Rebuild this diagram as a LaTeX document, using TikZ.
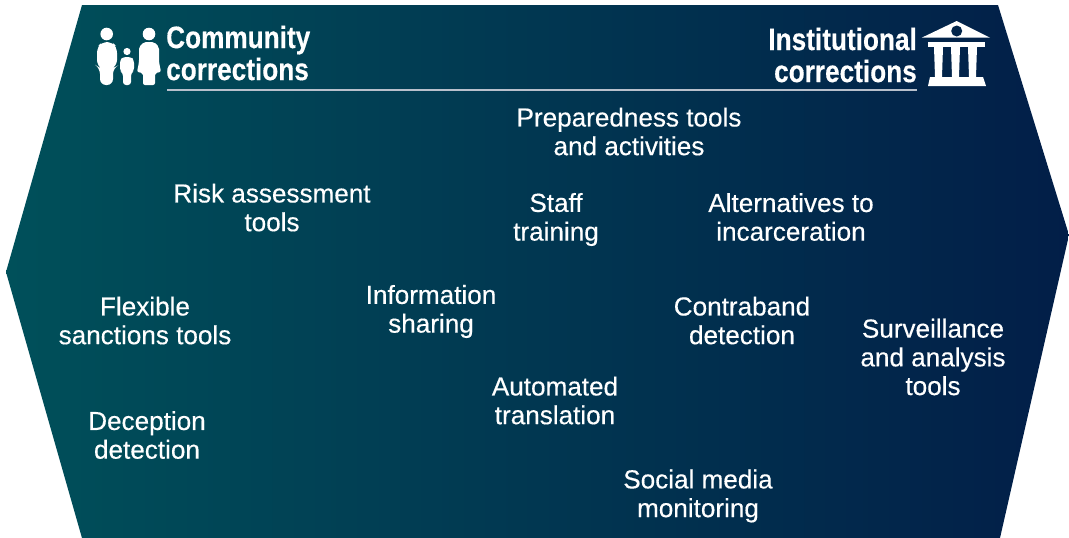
\documentclass[tikz,border=0pt]{standalone}
\usepackage{fontspec}
\setmainfont[FakeBold=0.35]{Liberation Sans}
\newfontfamily\headfont[FakeStretch=0.845,FakeBold=0.3]{Liberation Sans Bold}
\usepackage{tikz}
\definecolor{tealend}{RGB}{0,80,90}
\definecolor{navyend}{RGB}{2,30,72}
\tikzstyle{tool} = [text=white, align=center, inner sep=0pt, font=\fontsize{26.1}{28.7}\selectfont]
\tikzstyle{head} = [text=white, inner sep=0pt, font=\headfont\fontsize{31}{32}\selectfont]
\tikzstyle{icon} = [fill=white, draw=none]

\begin{document}
\begin{tikzpicture}[x=1pt,y=-1pt]
 \useasboundingbox (0,0) rectangle (1069,538);

 % hexagon band
 \shade[left color=tealend, right color=navyend, middle color=tealend!50!navyend]
   (82,5) -- (998,5) -- (1069,235) -- (1000,538) -- (82,538) -- (6,272) -- cycle;

 % headers
 \node (community) [head, align=left, anchor=west] at (166,53) {Community\\corrections};
 \node (institutional) [head, align=right, anchor=east] at (917,55) {Institutional\\corrections};
 \coordinate (ruleleft) at (167,90);
 \coordinate (ruleright) at (917,90);
 \draw [line width=1.3pt, white!72!navyend] (ruleleft) -- (ruleright);

 % family
 \fill [icon] (106.7,34) circle (6.3);
 \fill [icon, rounded corners=6pt] (100,85) -- (100,68) -- (97,66) -- (97,47) -- (102,42) -- (112,42) -- (117,47) -- (117,66) -- (113,68) -- (113,85) -- cycle;
 \fill [icon] (127,51.5) circle (3.6);
 \fill [icon, rounded corners=3pt] (123,85) -- (123,73) -- (120,71) -- (120,60) -- (123,57) -- (131,57) -- (134,60) -- (134,71) -- (131,73) -- (131,85) -- cycle;
 \fill [icon] (149,34) circle (6.3);
 \fill [icon, rounded corners=2pt] (143,85) -- (143,73) -- (137,72) -- (139,62) -- (139,47) -- (144,42) -- (154,42) -- (159,47) -- (159,62) -- (161,72) -- (155,73) -- (155,85) -- cycle;

 % temple
 \fill [icon] (956.7,21) -- (990,37.7) -- (921.7,37.7) -- cycle;
 \fill [navyend!85!tealend] (956.7,31) circle (5.5);
 \fill [icon] (928,42) rectangle (985,47);
 \fill [icon] (934,47) -- (943,47) -- (942,77) -- (935,77) -- cycle;
 \fill [icon] (951,47) -- (960,47) -- (959,77) -- (952,77) -- cycle;
 \fill [icon] (968,47) -- (977,47) -- (976,77) -- (969,77) -- cycle;
 \fill [icon] (930,77) -- (983,77) -- (986,86) -- (928,86) -- cycle;

 % tools
 \node (preparedness) [tool] at (629,131.5) {Preparedness tools\\and activities};
 \node (risk) [tool] at (272,207.5) {Risk assessment\\tools};
 \node (staff) [tool] at (556,219.5) {Staff\\training};
 \node (alternatives) [tool] at (791,217) {Alternatives to\\incarceration};
 \node (flexible) [tool] at (145,320.5) {Flexible\\sanctions tools};
 \node (information) [tool] at (431,311.5) {Information\\sharing};
 \node (contraband) [tool] at (742,320.5) {Contraband\\detection};
 \node (surveillance) [tool] at (933,357) {Surveillance\\and analysis\\tools};
 \node (automated) [tool] at (555,400.5) {Automated\\translation};
 \node (deception) [tool] at (147,435) {Deception\\detection};
 \node (social) [tool] at (698,496) {Social media\\monitoring};

\end{tikzpicture}
\end{document}
